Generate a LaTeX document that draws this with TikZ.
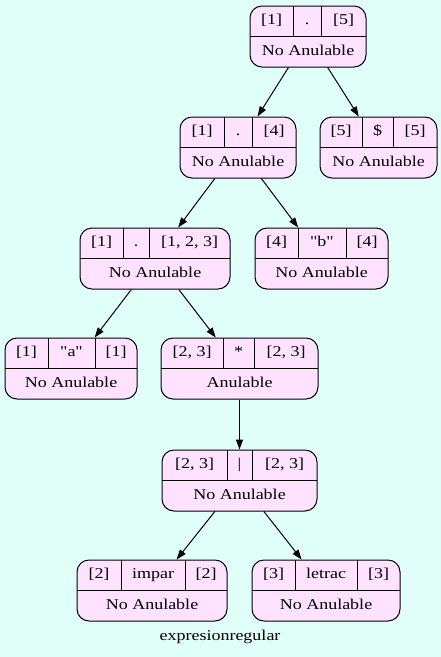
\documentclass[tikz,border=0pt]{standalone}
\usepackage{fontspec}
\setmainfont{Liberation Serif}[FakeStretch=1.2]
\newfontfamily\plainfont{Liberation Serif}[FakeStretch=1.2]
\usetikzlibrary{arrows.meta}
\definecolor{bgc}{RGB}{224,255,248}
\definecolor{fillc}{RGB}{255,226,255}
\tikzset{
  rec/.style={draw=black, line width=1pt, fill=fillc, rounded corners=12pt, rectangle, inner sep=0pt},
  div/.style={draw=black, line width=1pt},
  txt/.style={inner sep=0pt, text height=10pt, text depth=3.2pt, font=\fontsize{15}{17}\selectfont},
  arr/.style={draw=black, line width=1pt, -{Triangle[length=10pt,width=7pt]}},
}
\newcommand{\dq}{{\plainfont"}}
% name, x1, x2, top, d1, d2, t1, t2, t3
\newcommand{\rec}[9]{%
  \node[rec, minimum width={#3-#2}, minimum height=61] (#1) at ({(#2+#3)/2},{#4+30.5}) {};
  \draw[div] (#2,#4+30) -- (#3,#4+30);
  \draw[div] (#5,#4) -- (#5,#4+30);
  \draw[div] (#6,#4) -- (#6,#4+30);
  \node[txt] (#1-a) at ({(#2+#5)/2},{#4+15.5}) {#7};
  \node[txt] (#1-m) at ({(#5+#6)/2},{#4+15.5}) {#8};
  \node[txt] (#1-c) at ({(#6+#3)/2},{#4+15.5}) {#9};
}
\newcommand{\recbottom}[2]{%
  \node[txt] (#1-b) at ([yshift=15.5pt]#1.south) {#2};
}
\begin{document}
\begin{tikzpicture}[x=1pt,y=-1pt]
\fill[bgc] (0,0) rectangle (441,657);
\useasboundingbox (0,0) rectangle (441,657);
\rec{n1}{250}{366}{6}{293}{321}{[1]}{.}{[5]}
\recbottom{n1}{No Anulable}
\rec{n2}{180}{296}{117}{224}{252}{[1]}{.}{[4]}
\recbottom{n2}{No Anulable}
\rec{n3}{320}{437}{117}{362}{393}{[5]}{\$}{[5]}
\recbottom{n3}{No Anulable}
\rec{n4}{80}{230}{228}{123}{149}{[1]}{.}{[1, 2, 3]}
\recbottom{n4}{No Anulable}
\rec{n5}{255}{388}{228}{298}{346}{[4]}{\dq b\dq}{[4]}
\recbottom{n5}{No Anulable}
\rec{n6}{5}{137}{338}{48}{95}{[1]}{\dq a\dq}{[1]}
\recbottom{n6}{No Anulable}
\rec{n7}{161}{318}{338}{223}{254}{[2, 3]}{*}{[2, 3]}
\recbottom{n7}{Anulable}
\rec{n8}{162}{317}{450}{227}{252}{[2, 3]}{|}{[2, 3]}
\recbottom{n8}{No Anulable}
\rec{n9}{77}{227}{560}{121}{185}{[2]}{impar}{[2]}
\recbottom{n9}{No Anulable}
\rec{n10}{252}{400}{560}{295}{357}{[3]}{letrac}{[3]}
\recbottom{n10}{No Anulable}
\node[txt] (lbl) at (220,637) {expresionregular};
\draw[arr] (n1) -- (n2);
\draw[arr] (n1) -- (n3);
\draw[arr] (n2) -- (n4);
\draw[arr] (n2) -- (n5);
\draw[arr] (n4) -- (n6);
\draw[arr] (n4) -- (n7);
\draw[arr] (n7) -- (n8);
\draw[arr] (n8) -- (n9);
\draw[arr] (n8) -- (n10);
\end{tikzpicture}
\end{document}
